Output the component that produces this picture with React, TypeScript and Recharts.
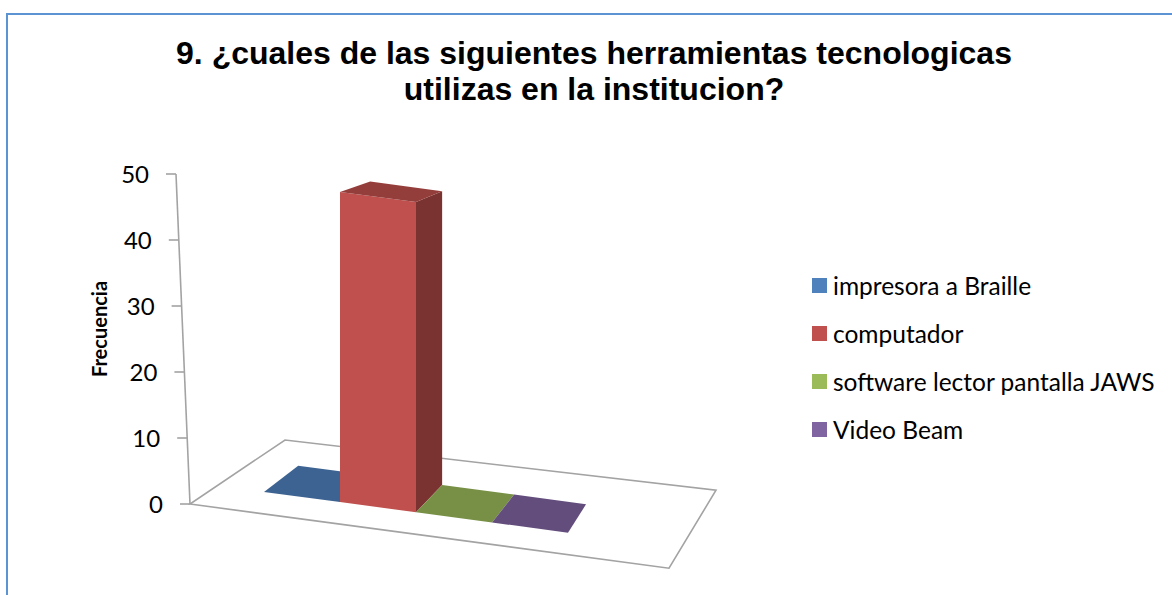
import React from "react";
import { BarChart, Bar, XAxis, YAxis, Legend, ReferenceArea } from "recharts";

// survey question 9 - one category, four series (Excel 3-D clustered column look)
const categories = ["Herramientas"];
const seriesKeys = ["braille", "computador", "jaws", "videoBeam"];
const seriesNames = ["impresora a Braille", "computador", "software lector pantalla JAWS", "Video Beam"];
const seriesColors = ["#4f81bd", "#c0504d", "#9bbb59", "#8064a2"];
const frecuencia = [0, 47, 0, 0];
const yTicks = [0, 10, 20, 30, 40, 50];

const data = categories.map((name) => {
  const row: Record<string, string | number> = { name };
  seriesKeys.forEach((k, i) => {
    row[k] = frecuencia[i];
  });
  return row;
});

// fake perspective settings
const PLOT_LEFT = 190;
const FLOOR_SLOPE = 0.134;
const FLOOR_EXTRA = 27;
const FLOOR_BACK_LEFT = [95, -64];
const FLOOR_BACK_RIGHT = [47, -78];
const BAR_VP = [909, -3];
const BAR_DEPTH = 0.053;
const BAR_LIFT = 22;
const AXIS_LEAN = 14;
const LINE_GREY = "#a3a3a3";

type Pt = number[];

const toward = (p: Pt, vp: Pt, f: number): Pt => [p[0] + f * (vp[0] - p[0]), p[1] + f * (vp[1] - p[1])];
const pts = (list: Pt[]) => list.map((p) => `${p[0]},${p[1]}`).join(" ");

function shade(hex: string, f: number) {
  const n = parseInt(hex.slice(1), 16);
  const c = [(n >> 16) & 255, (n >> 8) & 255, n & 255].map((v) => Math.round(v * f));
  return `rgb(${c[0]},${c[1]},${c[2]})`;
}

function Bar3D(props: any) {
  const { x, y, width, height, fill } = props;
  const h = Math.max(0, height || 0);
  const bottom = y + (height || 0);
  const base = (px: number) => bottom + FLOOR_SLOPE * (px - PLOT_LEFT) - BAR_LIFT;
  const fl: Pt = [x, base(x)];
  const fr: Pt = [x + width, base(x + width)];
  const tl: Pt = [x, fl[1] - h];
  const tr: Pt = [x + width, fr[1] - h];
  const back = (p: Pt) => toward(p, BAR_VP, BAR_DEPTH);
  return (
    <g>
      {h > 0.5 && <polygon points={pts([fl, fr, tr, tl])} fill={fill} />}
      {h > 0.5 && <polygon points={pts([fr, tr, back(tr), back(fr)])} fill={shade(fill, 0.64)} />}
      <polygon points={pts([tl, tr, back(tr), back(tl)])} fill={shade(fill, 0.77)} />
    </g>
  );
}

function FloorAndAxis(props: any) {
  const { x, y, width, height } = props;
  const bottom = y + height;
  const f0: Pt = [x, bottom];
  const f1: Pt = [x + width + FLOOR_EXTRA, bottom + FLOOR_SLOPE * (width + FLOOR_EXTRA)];
  const b1: Pt = [f1[0] + FLOOR_BACK_RIGHT[0], f1[1] + FLOOR_BACK_RIGHT[1]];
  const b0: Pt = [f0[0] + FLOOR_BACK_LEFT[0], f0[1] + FLOOR_BACK_LEFT[1]];
  return (
    <g>
      <polygon points={pts([f0, f1, b1, b0])} fill="none" stroke={LINE_GREY} strokeWidth={1.6} />
      <line x1={x} y1={bottom} x2={x - AXIS_LEAN} y2={y} stroke={LINE_GREY} strokeWidth={1.6} />
    </g>
  );
}

function ValueTick(props: any) {
  const { x, y, payload } = props;
  const ax = x - (AXIS_LEAN * payload.value) / yTicks[yTicks.length - 1];
  return (
    <g>
      <line x1={ax - 10} y1={y} x2={ax} y2={y} stroke={LINE_GREY} strokeWidth={1.6} />
      <text x={ax - 27} y={y} dy="0.36em" textAnchor="end" fill="#000" fontSize={24} fontFamily="Lato">
        {payload.value}
      </text>
    </g>
  );
}

function AxisTitle(props: any) {
  const vb = props.viewBox || { x: 0, y: 174, width: 190, height: 330 };
  const cx = vb.x + vb.width - 90;
  const cy = vb.y + vb.height / 2 - 10;
  return (
    <text
      x={cx}
      y={cy}
      transform={`rotate(-90 ${cx} ${cy})`}
      textAnchor="middle"
      dy="0.35em"
      fontFamily="Lato"
      fontWeight="bold"
      fontSize={20}
      fill="#000"
    >
      Frecuencia
    </text>
  );
}

function LegendList(props: any) {
  const items = [...(props.payload || [])].sort(
    (a: any, b: any) => seriesNames.indexOf(a.value) - seriesNames.indexOf(b.value)
  );
  return (
    <div style={{ fontFamily: "Lato", fontSize: 24.5, color: "#000" }}>
      {items.map((entry: any) => (
        <div key={entry.value} style={{ display: "flex", alignItems: "center", height: 48 }}>
          <span style={{ width: 15, height: 15, background: entry.color, marginRight: 6, flex: "none" }} />
          <span style={{ whiteSpace: "nowrap" }}>{entry.value}</span>
        </div>
      ))}
    </div>
  );
}

export default function App() {
  return (
    <div style={{ position: "fixed", left: 0, top: 0, width: 1172, height: 595, background: "#fff", overflow: "hidden" }}>
      <div
        style={{
          position: "absolute",
          left: 6,
          top: 13,
          width: 1300,
          height: 700,
          borderLeft: "2px solid #5b93d3",
          borderTop: "2px solid #5b93d3",
        }}
      />
      <div
        style={{
          position: "absolute",
          left: 0,
          top: 35,
          width: 1188,
          textAlign: "center",
          fontFamily: "'Liberation Sans', Arial, sans-serif",
          fontWeight: "bold",
          fontSize: 32,
          lineHeight: "36px",
          color: "#000",
        }}
      >
        9. ¿cuales de las siguientes herramientas tecnologicas
        <br />
        utilizas en la institucion?
      </div>
      <div style={{ position: "absolute", left: 0, top: 0 }}>
        <BarChart
          width={1172}
          height={595}
          data={data}
          barGap={0}
          margin={{ top: 174, right: 530, bottom: 91, left: 0 }}
        >
          <XAxis dataKey="name" hide />
          <YAxis
            type="number"
            domain={[0, yTicks[yTicks.length - 1]]}
            ticks={yTicks}
            interval={0}
            width={190}
            axisLine={false}
            tickLine={false}
            tickSize={0}
            tickMargin={0}
            tick={<ValueTick />}
            label={<AxisTitle />}
          />
          <ReferenceArea y1={0} y2={yTicks[yTicks.length - 1]} ifOverflow="visible" shape={(p: any) => <FloorAndAxis {...p} />} />
          {seriesKeys.map((key, i) => (
            <Bar
              key={key}
              dataKey={key}
              name={seriesNames[i]}
              fill={seriesColors[i]}
              barSize={76}
              shape={(p: any) => <Bar3D {...p} />}
              isAnimationActive={false}
            />
          ))}
          <Legend
            layout="vertical"
            align="center"
            verticalAlign="middle"
            content={<LegendList />}
            wrapperStyle={{ left: 812, top: 261, width: 360 }}
          />
        </BarChart>
      </div>
    </div>
  );
}
